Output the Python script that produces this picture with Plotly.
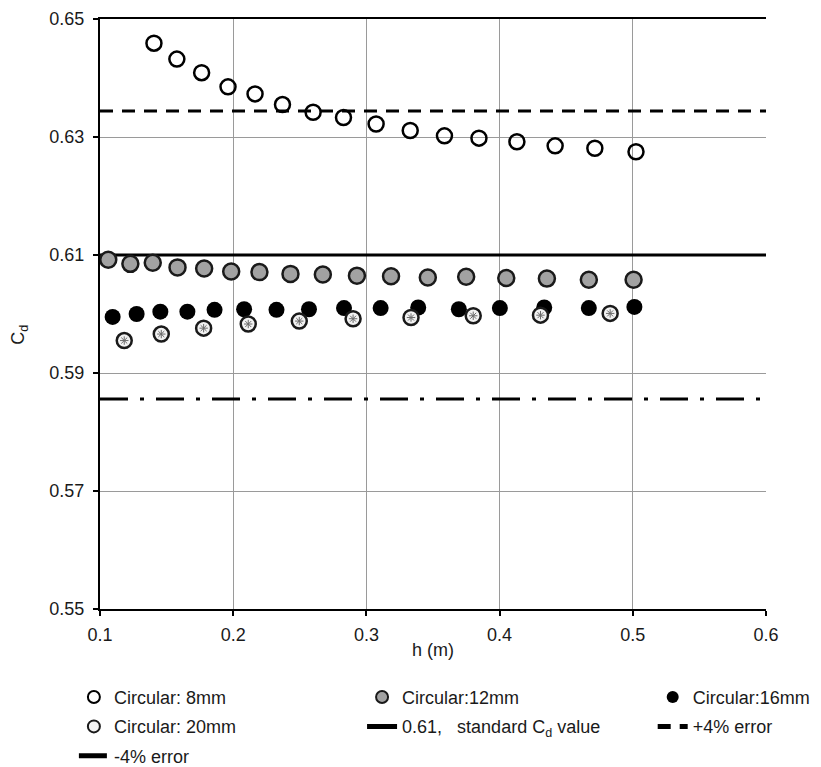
import plotly.graph_objects as go

# Discharge coefficient (Cd) versus head h for circular orifices
h_8mm = [0.1405, 0.1577, 0.1763, 0.1961, 0.2164, 0.2370, 0.2600, 0.2828,
         0.3073, 0.3329, 0.3586, 0.3845, 0.4130, 0.4417, 0.4715, 0.5024]
cd_8mm = [0.6459, 0.6432, 0.6409, 0.6385, 0.6373, 0.6355, 0.6342, 0.6333,
          0.6322, 0.6311, 0.6302, 0.6298, 0.6292, 0.6285, 0.6281, 0.6275]

h_12mm = [0.1062, 0.1228, 0.1396, 0.1582, 0.1782, 0.1985, 0.2197, 0.2430, 0.2673,
          0.2929, 0.3185, 0.3461, 0.3749, 0.4050, 0.4355, 0.4670, 0.5006]
cd_12mm = [0.6092, 0.6085, 0.6087, 0.6079, 0.6077, 0.6072, 0.6071, 0.6068, 0.6067,
           0.6065, 0.6064, 0.6062, 0.6063, 0.6061, 0.6060, 0.6058, 0.6058]

h_16mm = [0.1095, 0.1275, 0.1453, 0.1656, 0.1860, 0.2082, 0.2325, 0.2569,
          0.2832, 0.3107, 0.3389, 0.3694, 0.4002, 0.4335, 0.4670, 0.5012]
cd_16mm = [0.5995, 0.6000, 0.6004, 0.6004, 0.6007, 0.6008, 0.6007, 0.6008,
           0.6010, 0.6010, 0.6011, 0.6008, 0.6010, 0.6011, 0.6010, 0.6012]

h_20mm = [0.1182, 0.1460, 0.1778, 0.2113, 0.2496, 0.2900, 0.3335, 0.3802, 0.4307, 0.4830]
cd_20mm = [0.5955, 0.5966, 0.5976, 0.5983, 0.5988, 0.5992, 0.5994, 0.5997, 0.5998, 0.6001]

# Reference lines: standard Cd and +/-4 % band
h_range = [0.1, 0.6]
cd_standard = 0.61
band = 0.04
cd_plus = cd_standard * (1 + band)
cd_minus = cd_standard * (1 - band)

x_ticks = [0.1, 0.2, 0.3, 0.4, 0.5, 0.6]
y_ticks = [0.55, 0.57, 0.59, 0.61, 0.63, 0.65]

FONT = "Liberation Sans, Arial, sans-serif"

fig = go.Figure()

# reference lines (drawn beneath the markers)
fig.add_trace(go.Scatter(
    x=h_range, y=[cd_standard] * 2, mode="lines",
    line=dict(color="black", width=3),
    name="0.61,   standard C<sub>d</sub> value",
    legend="legend2", legendgroup="std", legendrank=2))
fig.add_trace(go.Scatter(
    x=h_range, y=[cd_plus] * 2, mode="lines",
    line=dict(color="black", width=3, dash="13px,9px"),
    name="+4% error", legend="legend3", legendgroup="plus", legendrank=2))
fig.add_trace(go.Scatter(
    x=h_range, y=[cd_minus] * 2, mode="lines",
    line=dict(color="black", width=3, dash="28px,12px,4px,12px"),
    name="-4% error", legend="legend", legendgroup="minus", legendrank=3))

# measured series
fig.add_trace(go.Scatter(
    x=h_8mm, y=cd_8mm, mode="markers", name="Circular: 8mm",
    marker=dict(symbol="circle-open", size=15, color="black",
                line=dict(width=2.5, color="black")),
    legend="legend", legendgroup="c8", legendrank=1))
fig.add_trace(go.Scatter(
    x=h_12mm, y=cd_12mm, mode="markers", name="Circular:12mm",
    marker=dict(symbol="circle", size=16, color="#a2a2a2",
                line=dict(width=2.5, color="#1a1a1a")),
    legend="legend2", legendgroup="c12", legendrank=1))
fig.add_trace(go.Scatter(
    x=h_16mm, y=cd_16mm, mode="markers", name="Circular:16mm",
    marker=dict(symbol="circle", size=16, color="black",
                line=dict(width=0, color="black")),
    legend="legend3", legendgroup="c16", legendrank=1))
fig.add_trace(go.Scatter(
    x=h_20mm, y=cd_20mm, mode="markers", name="Circular: 20mm",
    marker=dict(symbol="circle", size=15, color="#f2f2f2",
                line=dict(width=2.5, color="#1a1a1a")),
    legend="legend", legendgroup="c20", legendrank=2))
# speckled texture inside the 20 mm markers
fig.add_trace(go.Scatter(
    x=h_20mm, y=cd_20mm, mode="markers", showlegend=False, hoverinfo="skip",
    marker=dict(symbol="asterisk-open", size=7, color="#6a6a6a",
                line=dict(width=1, color="#6a6a6a")),
    legend="legend", legendgroup="c20", legendrank=2))

axis_common = dict(
    showgrid=True, gridcolor="#9a9a9a", gridwidth=1,
    showline=True, linecolor="black", linewidth=2,
    ticks="outside", ticklen=5, tickwidth=2, tickcolor="black",
    tickfont=dict(family=FONT, size=18, color="#1a1a1a"),
    zeroline=False, automargin=False,
)

fig.update_xaxes(
    range=h_range, tickvals=x_ticks, ticktext=[f"{v:.1f}" for v in x_ticks],
    mirror=True, ticklabelstandoff=3,
    title=dict(text="h (m)", font=dict(family=FONT, size=18, color="#1a1a1a"),
               standoff=0),
    **axis_common)
fig.update_yaxes(
    range=[0.55, 0.65], tickvals=y_ticks, ticktext=[f"{v:.2f}" for v in y_ticks],
    ticklabelstandoff=5,
    **axis_common)

fig.add_annotation(
    text="C<sub>d</sub>", textangle=-90, showarrow=False,
    xref="paper", yref="paper", x=-0.12, y=0.465,
    xanchor="center", yanchor="middle",
    font=dict(family=FONT, size=18, color="#1a1a1a"))

legend_common = dict(
    xref="container", yref="container", xanchor="left", yanchor="top",
    orientation="v", bgcolor="rgba(0,0,0,0)", borderwidth=0,
    font=dict(family=FONT, size=18, color="#1a1a1a"),
    itemsizing="constant", traceorder="grouped", tracegroupgap=3,
)

fig.update_layout(
    width=821, height=767,
    margin=dict(l=100, r=55, t=19, b=158, autoexpand=False),
    paper_bgcolor="white", plot_bgcolor="white",
    font=dict(family=FONT, size=18, color="#1a1a1a"),
    showlegend=True,
    legend=dict(x=0.090, y=0.115, **legend_common),
    legend2=dict(x=0.441, y=0.115, **legend_common),
    legend3=dict(x=0.795, y=0.115, **legend_common),
)

fig.write_html("out.html")
